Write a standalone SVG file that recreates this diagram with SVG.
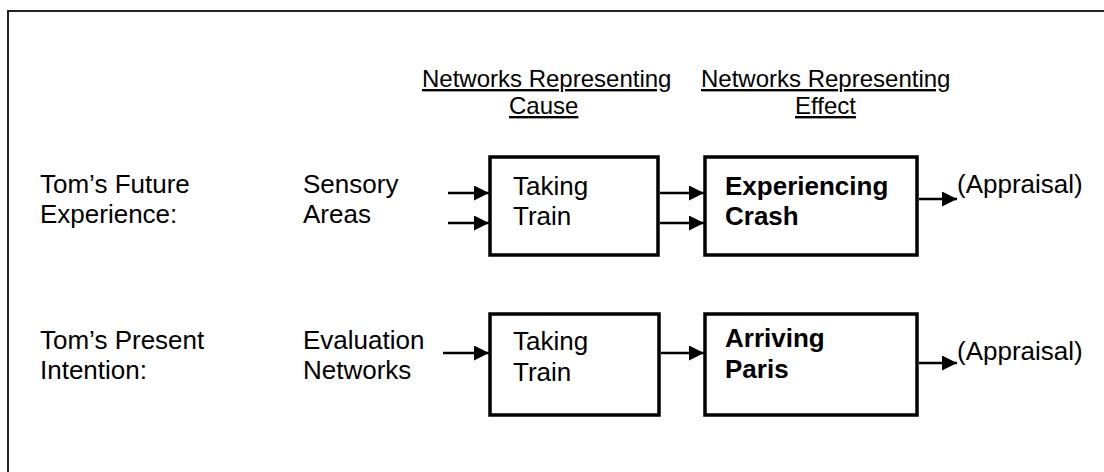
<svg xmlns="http://www.w3.org/2000/svg" width="1104" height="472" viewBox="0 0 1104 472">
<style>
.t{font-family:"Liberation Sans",Arial,sans-serif;font-size:26px;fill:#000}
.b{font-weight:bold}
.h{font-family:"Liberation Sans",Arial,sans-serif;font-size:24px;fill:#000;text-decoration:underline}
.box{fill:#fff;stroke:#000;stroke-width:3.5}
.c{stroke:#000;stroke-width:2.5;fill:none}
</style>
<defs>
<marker id="ah" markerUnits="userSpaceOnUse" markerWidth="17" markerHeight="16" refX="15" refY="7.5" orient="auto">
<path d="M0,0 L15,7.5 L0,15 Z" fill="#000"/>
</marker>
</defs>
<rect x="8" y="11" width="1120" height="490" fill="#fff" stroke="#222" stroke-width="2"/>
<g id="headers">
<text class="h" x="422" y="87">Networks Representing</text>
<text class="h" x="509" y="114">Cause</text>
<text class="h" x="701" y="87">Networks Representing</text>
<text class="h" x="795" y="114">Effect</text>
</g>
<g id="label-future">
<text class="t" x="40" y="193">Tom’s Future</text>
<text class="t" x="40" y="223">Experience:</text>
</g>
<g id="label-sensory">
<text class="t" x="303" y="193">Sensory</text>
<text class="t" x="303" y="223">Areas</text>
</g>
<g id="label-present">
<text class="t" x="40" y="349">Tom’s Present</text>
<text class="t" x="40" y="379">Intention:</text>
</g>
<g id="label-evaluation">
<text class="t" x="303" y="349">Evaluation</text>
<text class="t" x="303" y="379">Networks</text>
</g>
<g id="box-taking-1">
<rect class="box" x="490" y="157" width="168" height="98"/>
<text class="t" x="513" y="195">Taking</text>
<text class="t" x="513" y="225">Train</text>
</g>
<g id="box-crash">
<rect class="box" x="705" y="157" width="212" height="98"/>
<text class="t b" x="725" y="195">Experiencing</text>
<text class="t b" x="725" y="225">Crash</text>
</g>
<g id="box-taking-2">
<rect class="box" x="490" y="314" width="169" height="101"/>
<text class="t" x="513" y="350">Taking</text>
<text class="t" x="513" y="381">Train</text>
</g>
<g id="box-paris">
<rect class="box" x="705" y="314" width="212" height="101"/>
<text class="t b" x="725" y="347">Arriving</text>
<text class="t b" x="725" y="378">Paris</text>
</g>
<g id="appraisal-1"><text class="t" x="957" y="193">(Appraisal)</text></g>
<g id="appraisal-2"><text class="t" x="957" y="360">(Appraisal)</text></g>
<g id="connectors">
<line class="c" x1="448" y1="193" x2="489" y2="193" marker-end="url(#ah)"/>
<line class="c" x1="448" y1="223" x2="489" y2="223" marker-end="url(#ah)"/>
<line class="c" x1="660" y1="193" x2="704" y2="193" marker-end="url(#ah)"/>
<line class="c" x1="660" y1="223" x2="704" y2="223" marker-end="url(#ah)"/>
<line class="c" x1="919" y1="199" x2="957" y2="199" marker-end="url(#ah)"/>
<line class="c" x1="443" y1="353" x2="489" y2="353" marker-end="url(#ah)"/>
<line class="c" x1="661" y1="353" x2="704" y2="353" marker-end="url(#ah)"/>
<line class="c" x1="919" y1="363" x2="957" y2="363" marker-end="url(#ah)"/>
</g>
</svg>
